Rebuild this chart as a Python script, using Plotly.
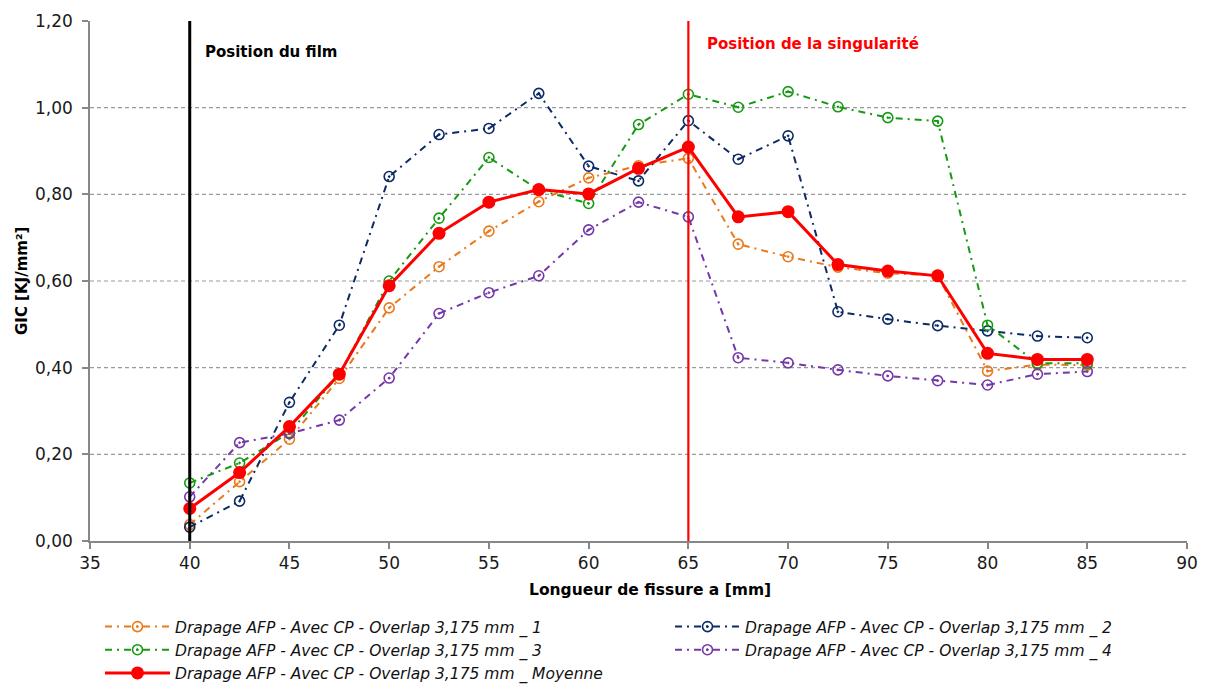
import plotly.graph_objects as go

# Crack length positions (mm)
longueur = [40, 42.5, 45, 47.5, 50, 52.5, 55, 57.5, 60, 62.5, 65,
            67.5, 70, 72.5, 75, 77.5, 80, 82.5, 85]

# GIC values (kJ/mm²) for each specimen and the mean
gic_1 = [0.038, 0.137, 0.235, 0.375, 0.538, 0.633, 0.715, 0.783, 0.838, 0.866, 0.883,
         0.685, 0.656, 0.632, 0.618, 0.613, 0.392, 0.407, 0.406]
gic_2 = [0.032, 0.092, 0.320, 0.498, 0.841, 0.938, 0.952, 1.033, 0.865, 0.831, 0.970,
         0.881, 0.935, 0.529, 0.512, 0.497, 0.485, 0.473, 0.469]
gic_3 = [0.134, 0.180, 0.250, 0.385, 0.600, 0.745, 0.885, 0.810, 0.779, 0.961, 1.031,
         1.001, 1.037, 1.002, 0.977, 0.969, 0.498, 0.410, 0.410]
gic_4 = [0.102, 0.227, 0.248, 0.279, 0.376, 0.525, 0.573, 0.612, 0.718, 0.782, 0.748,
         0.423, 0.411, 0.395, 0.381, 0.370, 0.360, 0.385, 0.391]
gic_moy = [0.075, 0.158, 0.264, 0.385, 0.589, 0.710, 0.782, 0.811, 0.801, 0.860, 0.909,
           0.748, 0.760, 0.638, 0.623, 0.612, 0.433, 0.419, 0.419]

noms = ["Drapage AFP - Avec CP - Overlap 3,175 mm _ 1",
        "Drapage AFP - Avec CP - Overlap 3,175 mm _ 2",
        "Drapage AFP - Avec CP - Overlap 3,175 mm _ 3",
        "Drapage AFP - Avec CP - Overlap 3,175 mm _ 4",
        "Drapage AFP - Avec CP - Overlap 3,175 mm _ Moyenne"]
couleurs = ["#E97A1C", "#0C2A66", "#159A12", "#7438A8", "#FF0000"]
# Left legend column holds specimens 1, 3 and the mean; right column 2 and 4
colonnes = ["legend", "legend2", "legend", "legend2", "legend"]

y_ticks = [0.0, 0.2, 0.4, 0.6, 0.8, 1.0, 1.2]
x_ticks = [35, 40, 45, 50, 55, 60, 65, 70, 75, 80, 85, 90]

position_film = 40
position_singularite = 65

FONT = "DejaVu Sans, sans-serif"
AXE = "#878787"

# Plot-area geometry in pixels, used to place text in paper coordinates
W, H = 1207, 685
ML, MR, MT, MB = 90, 20, 21, 144
PW, PH = W - ML - MR, H - MT - MB


def px_x(px):
    return (px - ML) / PW


def px_y(py):
    return (H - MB - py) / PH


fig = go.Figure()

for i, serie in enumerate([gic_1, gic_2, gic_3, gic_4]):
    fig.add_trace(go.Scatter(
        x=longueur, y=serie, name=noms[i], mode="lines+markers", legend=colonnes[i],
        line=dict(color=couleurs[i], width=2, dash="7px,5px,2px,5px"),
        marker=dict(symbol="circle-open-dot", size=10, color=couleurs[i],
                    line=dict(width=1.6, color=couleurs[i])),
    ))

fig.add_trace(go.Scatter(
    x=longueur, y=gic_moy, name=noms[4], mode="lines+markers", legend=colonnes[4],
    line=dict(color=couleurs[4], width=3),
    marker=dict(symbol="circle", size=13, color=couleurs[4]),
))

# Dashed horizontal gridlines (none on the top edge)
for v in y_ticks[1:-1]:
    fig.add_shape(type="line", xref="paper", yref="y", x0=0, x1=1, y0=v, y1=v,
                  line=dict(color="#9A9A9A", width=1.2, dash="4px,3px"), layer="below")

# Reference positions: film insert and singularity
fig.add_shape(type="line", xref="x", yref="y", x0=position_film, x1=position_film,
              y0=-0.014, y1=1.2, line=dict(color="black", width=3))
fig.add_shape(type="line", xref="x", yref="y", x0=position_singularite, x1=position_singularite,
              y0=0, y1=1.214, line=dict(color="#FF0000", width=2.2))

fig.add_annotation(x=position_film, y=1.128, xref="x", yref="y", xanchor="left", yanchor="middle",
                   xshift=13, text="<b>Position du film</b>", showarrow=False,
                   font=dict(family=FONT, size=15, color="black"))
fig.add_annotation(x=position_singularite, y=1.147, xref="x", yref="y", xanchor="left", yanchor="middle",
                   xshift=17, text="<b>Position de la singularité</b>", showarrow=False,
                   font=dict(family=FONT, size=15, color="#FF0000"))

# Axis titles
fig.add_annotation(x=px_x(22), y=0.5, xref="paper", yref="paper", xanchor="center",
                   yanchor="middle", textangle=-90, text="<b>GIC [KJ/mm²]</b>", showarrow=False,
                   font=dict(family=FONT, size=15, color="black"))
fig.add_annotation(x=px_x(650), y=px_y(590), xref="paper", yref="paper",
                   xanchor="center", yanchor="middle", text="<b>Longueur de fissure a [mm]</b>",
                   showarrow=False, font=dict(family=FONT, size=15.5, color="black"))

legend_style = dict(orientation="v", yanchor="top", xanchor="left",
                    xref="container", yref="container",
                    itemwidth=65, tracegroupgap=0, traceorder="normal",
                    bgcolor="rgba(0,0,0,0)",
                    font=dict(family=FONT, size=15.5, style="italic", color="#111"))

fig.update_layout(
    width=W, height=H,
    margin=dict(l=ML, r=MR, t=MT, b=MB, autoexpand=False),
    paper_bgcolor="white", plot_bgcolor="white",
    separators=", ",
    font=dict(family=FONT, size=17, color="#1a1a1a"),
    showlegend=True,
    legend=dict(x=100 / W, y=1 - 610 / H, **legend_style),
    legend2=dict(x=670 / W, y=1 - 610 / H, **legend_style),
    xaxis=dict(range=[35, 90], tickvals=x_ticks, showgrid=False, zeroline=False,
               showline=True, linecolor=AXE, linewidth=1.5,
               ticks="outside", ticklen=6, tickcolor=AXE, tickwidth=1.5),
    yaxis=dict(range=[0, 1.2], tickvals=y_ticks, tickformat=".2f", showgrid=False,
               zeroline=False, showline=True, linecolor=AXE, linewidth=1.5,
               ticks="outside", ticklen=6, tickcolor=AXE, tickwidth=1.5,
               ticklabelstandoff=6),
)

fig.write_html("out.html")
